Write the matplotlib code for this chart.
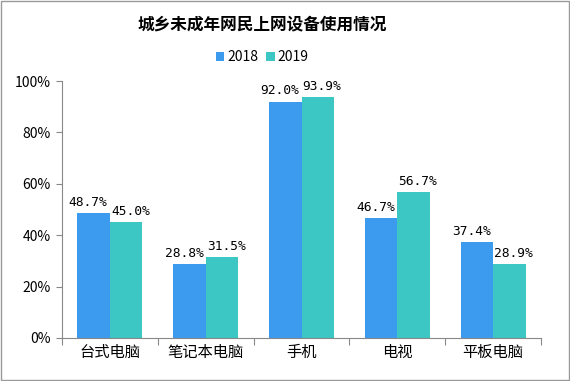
import numpy as np
import matplotlib.pyplot as plt
from matplotlib.patches import Rectangle

plt.rcParams['font.family'] = ['Noto Sans CJK SC', 'DejaVu Sans']

categories = ['台式电脑', '笔记本电脑', '手机', '电视', '平板电脑']
v2018 = [48.7, 28.8, 92.0, 46.7, 37.4]
v2019 = [45.0, 31.5, 93.9, 56.7, 28.9]
yticks = [0, 20, 40, 60, 80, 100]

c2018 = '#3D9BEF'
c2019 = '#3CC6C4'

fig = plt.figure(figsize=(5.7, 3.81), dpi=100)
ax = fig.add_axes([0.1088, 0.1129, 0.8404, 0.6745])

x = np.arange(len(categories))
w = 0.34
b1 = ax.bar(x - w / 2, v2018, w, color=c2018, label='2018')
b2 = ax.bar(x + w / 2, v2019, w, color=c2019, label='2019')

# 2018 labels nudged left, 2019 right, so neighbours don't collide
for bars, vals, dx in [(b1, v2018, -4), (b2, v2019, 3)]:
    for r, v in zip(bars, vals):
        ax.annotate(f'{v:.1f}%', (r.get_x() + r.get_width() / 2, v),
                    xytext=(dx, 3), textcoords='offset points',
                    ha='center', va='bottom', fontsize=9.3,
                    family=['DejaVu Sans Mono'])

ax.set_xlim(-0.5, len(categories) - 0.5)
ax.set_ylim(0, 100)
ax.set_yticks(yticks)
ax.set_yticklabels([f'{t}%' for t in yticks], fontsize=10)
ax.set_xticks(np.arange(len(categories) + 1) - 0.5)
ax.set_xticklabels([])
ax.set_xticks(x, minor=True)
ax.set_xticklabels(categories, minor=True, fontsize=11)
ax.tick_params(axis='x', which='minor', length=0, pad=4)
ax.tick_params(axis='x', which='major', length=5, color='#888888', direction='out')
ax.tick_params(axis='y', length=4, color='#888888', direction='out', pad=4)

for s in ['top', 'right']:
    ax.spines[s].set_visible(False)
for s in ['left', 'bottom']:
    ax.spines[s].set_color('#888888')

fig.text(0.46, 0.935, '城乡未成年网民上网设备使用情况', ha='center', va='center',
         fontsize=12, fontweight='bold')
fig.legend(loc='center', bbox_to_anchor=(0.46, 0.85), ncol=2, frameon=False,
           fontsize=10, handlelength=0.6, handleheight=0.6, handletextpad=0.2,
           columnspacing=0.6)

fig.patches.append(Rectangle((0.002, 0.003), 0.996, 0.994, transform=fig.transFigure,
                             fill=False, edgecolor='#999999', linewidth=1))

fig.savefig('out.png', dpi=100)
